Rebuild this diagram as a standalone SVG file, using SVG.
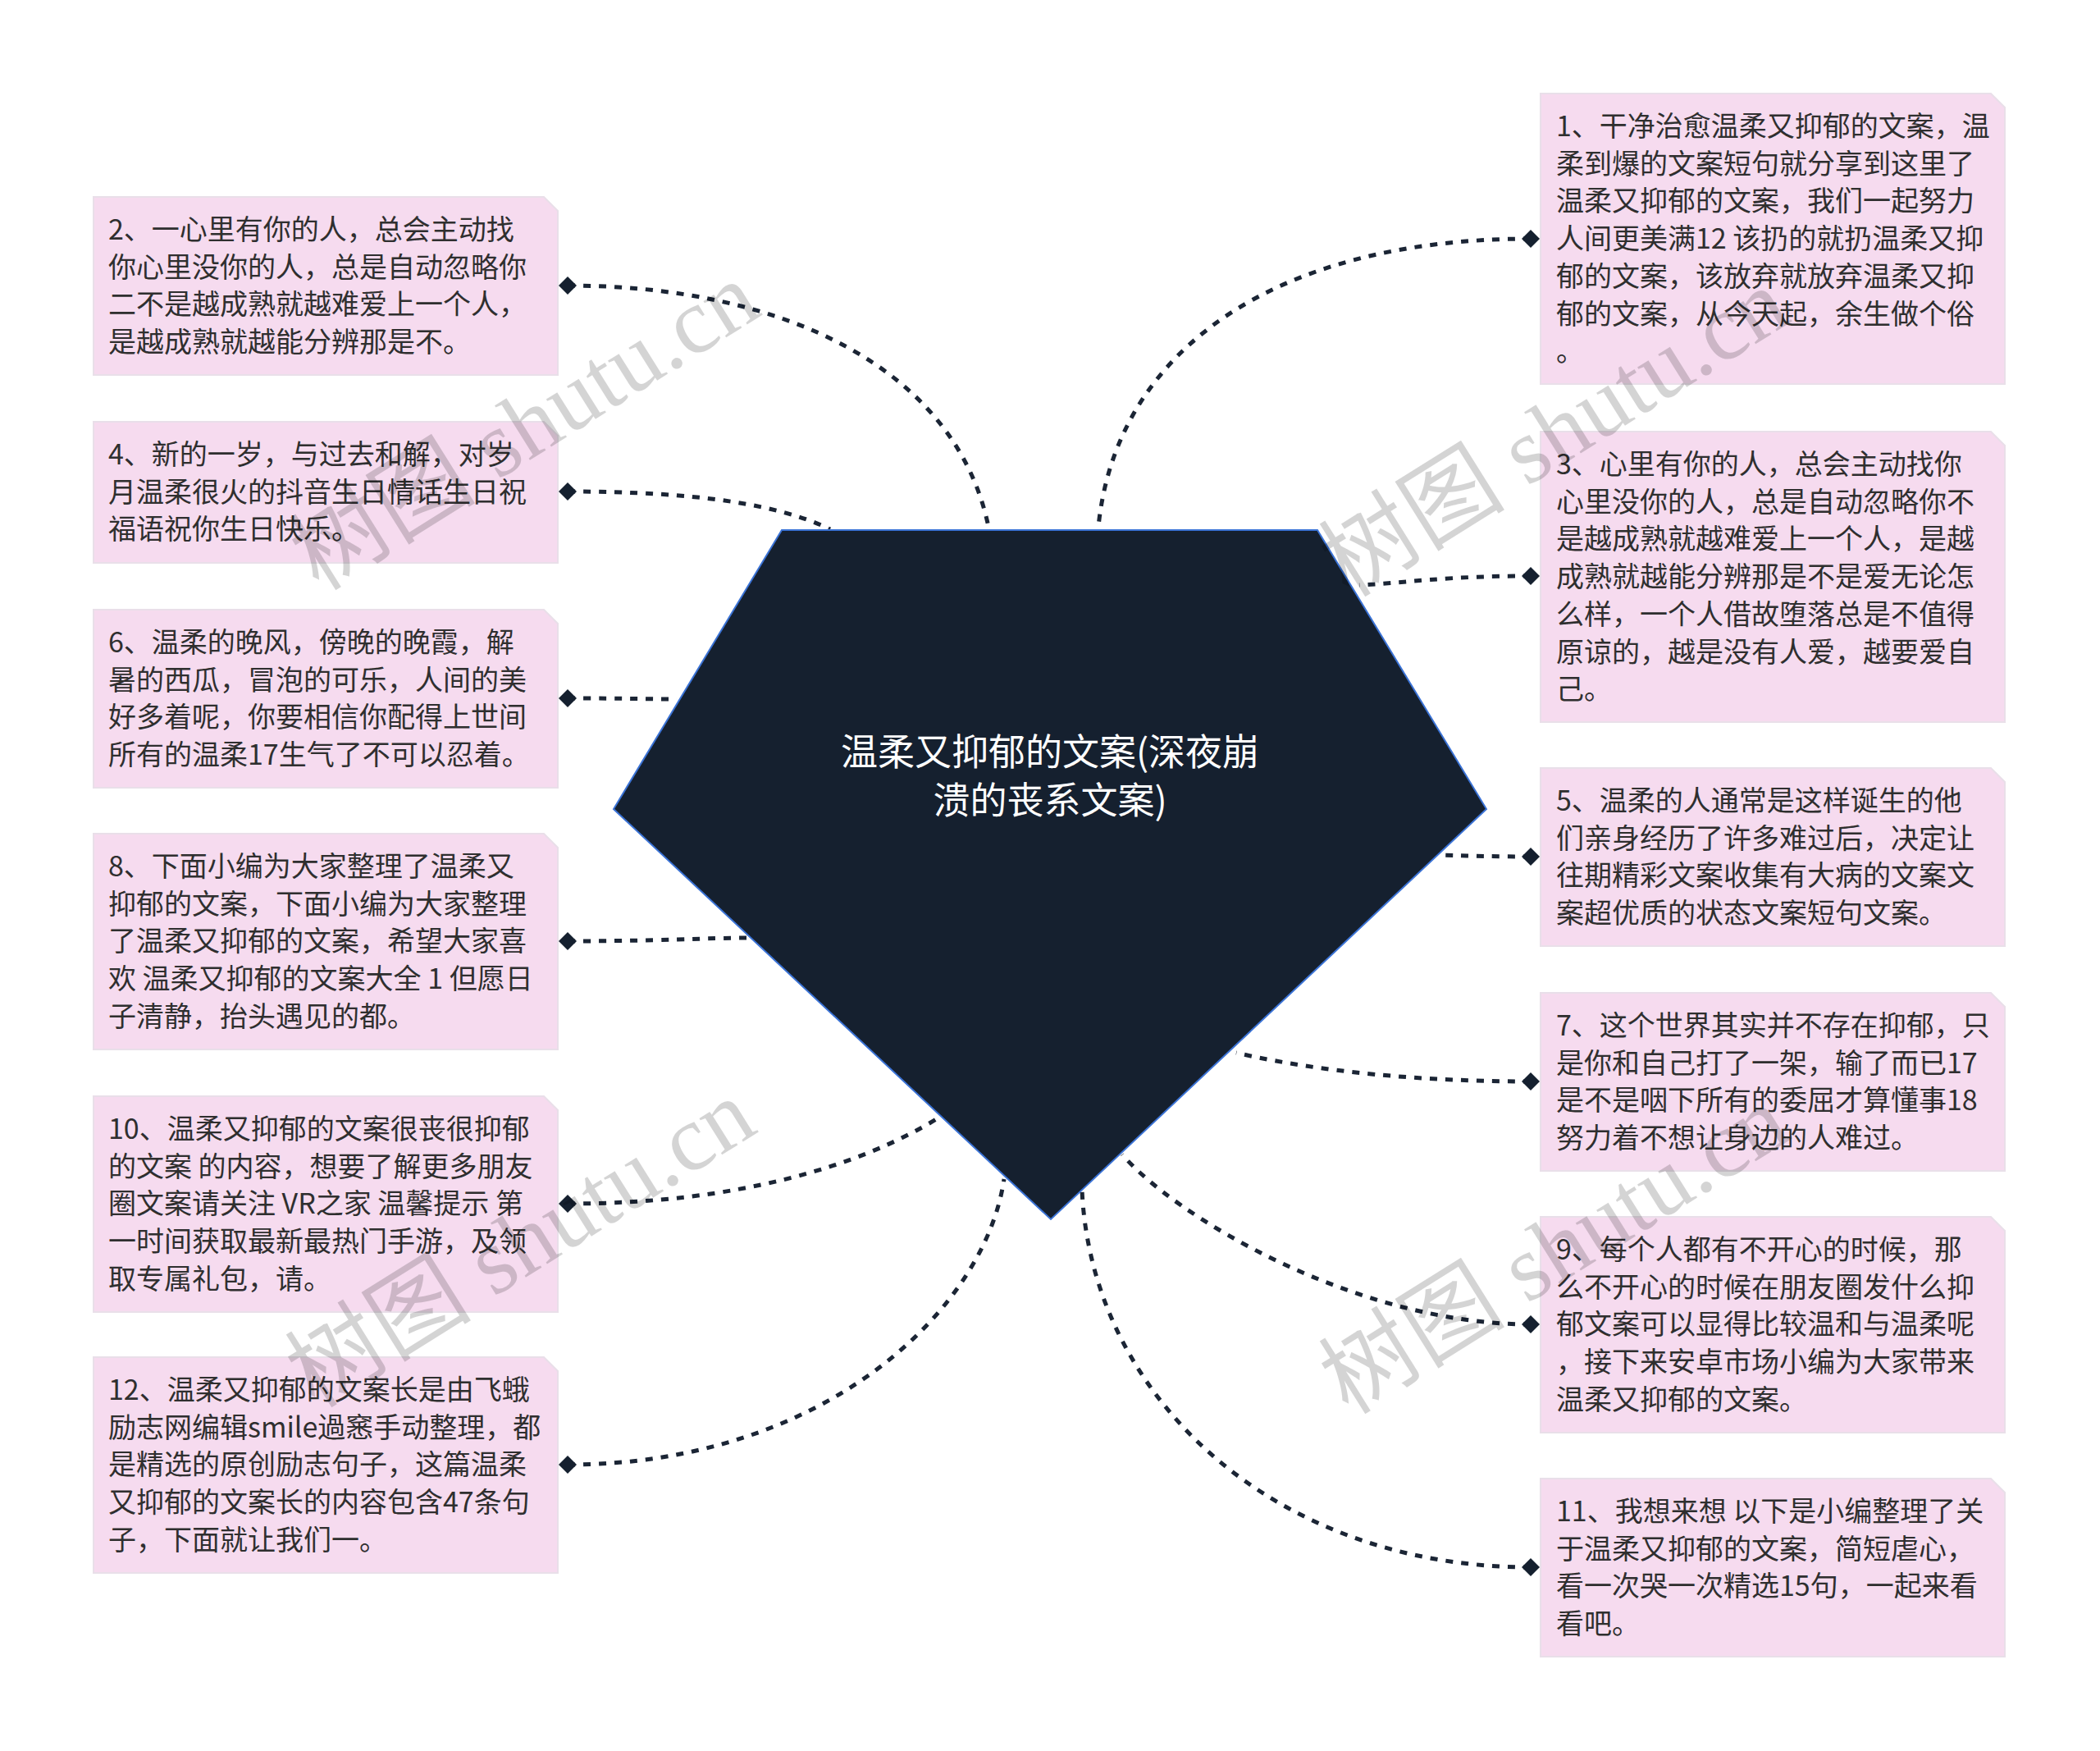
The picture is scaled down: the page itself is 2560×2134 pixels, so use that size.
<svg xmlns="http://www.w3.org/2000/svg" width="2560" height="2134" viewBox="0 0 2560 2134">
<defs>
<style>
.box{fill:#f6dbef;stroke:#e9dfe9;stroke-width:2}
.t{font-family:"Noto Sans CJK SC","Noto Sans",sans-serif;font-size:34px;fill:#2f2f2f}
.title{font-family:"Noto Sans CJK SC","Noto Sans",sans-serif;font-size:45px;fill:#ffffff;text-anchor:middle}
.c{fill:none;stroke:#1b2535;stroke-width:5;stroke-dasharray:9 10}
.dm{fill:#15202f}
.wm{font-family:"Liberation Serif","Noto Sans CJK SC",serif;font-size:114px;fill:#000;fill-opacity:0.17;text-anchor:middle}
</style>
</defs>
<rect width="2560" height="2134" fill="#ffffff"/>
<g id="connectors">
<path class="c" d="M692 348 C950 348 1164 446 1205 642"/>
<path class="c" d="M692 599 C850 599 950 615 1012 645"/>
<path class="c" d="M692 851 C760 851 790 852 825 852"/>
<path class="c" d="M692 1147 C800 1147 860 1143 914 1143"/>
<path class="c" d="M692 1467 C900 1467 1050 1420 1143 1363"/>
<path class="c" d="M692 1785 C1000 1785 1200 1600 1224 1437"/>
<path class="c" d="M1866 291 C1550 291 1360 430 1339 642"/>
<path class="c" d="M1866 702 C1760 702 1720 710 1657 713"/>
<path class="c" d="M1866 1044 C1820 1044 1790 1043 1752 1042"/>
<path class="c" d="M1866 1318 C1700 1318 1580 1300 1507 1283"/>
<path class="c" d="M1866 1614 C1650 1614 1430 1480 1368 1407"/>
<path class="c" d="M1866 1910 C1550 1910 1330 1700 1319 1450"/>
<polygon class="dm" points="681,348 692,337 703,348 692,359"/>
<polygon class="dm" points="681,599 692,588 703,599 692,610"/>
<polygon class="dm" points="681,851 692,840 703,851 692,862"/>
<polygon class="dm" points="681,1147 692,1136 703,1147 692,1158"/>
<polygon class="dm" points="681,1467 692,1456 703,1467 692,1478"/>
<polygon class="dm" points="681,1785 692,1774 703,1785 692,1796"/>
<polygon class="dm" points="1855,291 1866,280 1877,291 1866,302"/>
<polygon class="dm" points="1855,702 1866,691 1877,702 1866,713"/>
<polygon class="dm" points="1855,1044 1866,1033 1877,1044 1866,1055"/>
<polygon class="dm" points="1855,1318 1866,1307 1877,1318 1866,1329"/>
<polygon class="dm" points="1855,1614 1866,1603 1877,1614 1866,1625"/>
<polygon class="dm" points="1855,1910 1866,1899 1877,1910 1866,1921"/>
</g>
<g id="root">
<polygon points="953,646 1606,646 1812,986 1281,1486 748,986" fill="#15202f" stroke="#3b73d6" stroke-width="2"/>
<text class="title" x="1280" y="933">温柔又抑郁的文案(深夜崩</text>
<text class="title" x="1280" y="992">溃的丧系文案)</text>
</g>
<g id="n2">
<path class="box" d="M114 240 H663 L680 257 V457 H114 Z"/>
<text class="t" x="132" y="292">2、一心里有你的人，总会主动找</text>
<text class="t" x="132" y="337.7">你心里没你的人，总是自动忽略你</text>
<text class="t" x="132" y="383.4">二不是越成熟就越难爱上一个人，</text>
<text class="t" x="132" y="429.1">是越成熟就越能分辨那是不。</text>
</g>
<g id="n4">
<path class="box" d="M114 514 H663 L680 531 V686 H114 Z"/>
<text class="t" x="132" y="566">4、新的一岁，与过去和解，对岁</text>
<text class="t" x="132" y="611.7">月温柔很火的抖音生日情话生日祝</text>
<text class="t" x="132" y="657.4">福语祝你生日快乐。</text>
</g>
<g id="n6">
<path class="box" d="M114 743 H663 L680 760 V960 H114 Z"/>
<text class="t" x="132" y="795">6、温柔的晚风，傍晚的晚霞，解</text>
<text class="t" x="132" y="840.7">暑的西瓜，冒泡的可乐，人间的美</text>
<text class="t" x="132" y="886.4">好多着呢，你要相信你配得上世间</text>
<text class="t" x="132" y="932.1">所有的温柔17生气了不可以忍着。</text>
</g>
<g id="n8">
<path class="box" d="M114 1016 H663 L680 1033 V1279 H114 Z"/>
<text class="t" x="132" y="1068">8、下面小编为大家整理了温柔又</text>
<text class="t" x="132" y="1113.7">抑郁的文案，下面小编为大家整理</text>
<text class="t" x="132" y="1159.4">了温柔又抑郁的文案，希望大家喜</text>
<text class="t" x="132" y="1205.1">欢 温柔又抑郁的文案大全 1 但愿日</text>
<text class="t" x="132" y="1250.8">子清静，抬头遇见的都。</text>
</g>
<g id="n10">
<path class="box" d="M114 1336 H663 L680 1353 V1599 H114 Z"/>
<text class="t" x="132" y="1388">10、温柔又抑郁的文案很丧很抑郁</text>
<text class="t" x="132" y="1433.7">的文案 的内容，想要了解更多朋友</text>
<text class="t" x="132" y="1479.4">圈文案请关注 VR之家 温馨提示 第</text>
<text class="t" x="132" y="1525.1">一时间获取最新最热门手游，及领</text>
<text class="t" x="132" y="1570.8">取专属礼包，请。</text>
</g>
<g id="n12">
<path class="box" d="M114 1654 H663 L680 1671 V1917 H114 Z"/>
<text class="t" x="132" y="1706">12、温柔又抑郁的文案长是由飞蛾</text>
<text class="t" x="132" y="1751.7">励志网编辑smile過窸手动整理，都</text>
<text class="t" x="132" y="1797.4">是精选的原创励志句子，这篇温柔</text>
<text class="t" x="132" y="1843.1">又抑郁的文案长的内容包含47条句</text>
<text class="t" x="132" y="1888.8">子，下面就让我们一。</text>
</g>
<g id="n1">
<path class="box" d="M1878 114 H2427 L2444 131 V468 H1878 Z"/>
<text class="t" x="1897" y="166">1、干净治愈温柔又抑郁的文案，温</text>
<text class="t" x="1897" y="211.7">柔到爆的文案短句就分享到这里了</text>
<text class="t" x="1897" y="257.4">温柔又抑郁的文案，我们一起努力</text>
<text class="t" x="1897" y="303.1">人间更美满12 该扔的就扔温柔又抑</text>
<text class="t" x="1897" y="348.8">郁的文案，该放弃就放弃温柔又抑</text>
<text class="t" x="1897" y="394.5">郁的文案，从今天起，余生做个俗</text>
<text class="t" x="1897" y="440.2">。</text>
</g>
<g id="n3">
<path class="box" d="M1878 526 H2427 L2444 543 V880 H1878 Z"/>
<text class="t" x="1897" y="578">3、心里有你的人，总会主动找你</text>
<text class="t" x="1897" y="623.7">心里没你的人，总是自动忽略你不</text>
<text class="t" x="1897" y="669.4">是越成熟就越难爱上一个人，是越</text>
<text class="t" x="1897" y="715.1">成熟就越能分辨那是不是爱无论怎</text>
<text class="t" x="1897" y="760.8">么样，一个人借故堕落总是不值得</text>
<text class="t" x="1897" y="806.5">原谅的，越是没有人爱，越要爱自</text>
<text class="t" x="1897" y="852.2">己。</text>
</g>
<g id="n5">
<path class="box" d="M1878 936 H2427 L2444 953 V1153 H1878 Z"/>
<text class="t" x="1897" y="988">5、温柔的人通常是这样诞生的他</text>
<text class="t" x="1897" y="1033.7">们亲身经历了许多难过后，决定让</text>
<text class="t" x="1897" y="1079.4">往期精彩文案收集有大病的文案文</text>
<text class="t" x="1897" y="1125.1">案超优质的状态文案短句文案。</text>
</g>
<g id="n7">
<path class="box" d="M1878 1210 H2427 L2444 1227 V1427 H1878 Z"/>
<text class="t" x="1897" y="1262">7、这个世界其实并不存在抑郁，只</text>
<text class="t" x="1897" y="1307.7">是你和自己打了一架，输了而已17</text>
<text class="t" x="1897" y="1353.4">是不是咽下所有的委屈才算懂事18</text>
<text class="t" x="1897" y="1399.1">努力着不想让身边的人难过。</text>
</g>
<g id="n9">
<path class="box" d="M1878 1483 H2427 L2444 1500 V1746 H1878 Z"/>
<text class="t" x="1897" y="1535">9、每个人都有不开心的时候，那</text>
<text class="t" x="1897" y="1580.7">么不开心的时候在朋友圈发什么抑</text>
<text class="t" x="1897" y="1626.4">郁文案可以显得比较温和与温柔呢</text>
<text class="t" x="1897" y="1672.1">，接下来安卓市场小编为大家带来</text>
<text class="t" x="1897" y="1717.8">温柔又抑郁的文案。</text>
</g>
<g id="n11">
<path class="box" d="M1878 1802 H2427 L2444 1819 V2019 H1878 Z"/>
<text class="t" x="1897" y="1854">11、我想来想 以下是小编整理了关</text>
<text class="t" x="1897" y="1899.7">于温柔又抑郁的文案，简短虐心，</text>
<text class="t" x="1897" y="1945.4">看一次哭一次精选15句，一起来看</text>
<text class="t" x="1897" y="1991.1">看吧。</text>
</g>
<g id="watermarks">
<text class="wm" transform="translate(660,552) rotate(-32)">树图 shutu.cn</text>
<text class="wm" transform="translate(1915,560) rotate(-32)">树图 shutu.cn</text>
<text class="wm" transform="translate(655,1548) rotate(-32)">树图 shutu.cn</text>
<text class="wm" transform="translate(1915,1556) rotate(-32)">树图 shutu.cn</text>
</g>
</svg>
